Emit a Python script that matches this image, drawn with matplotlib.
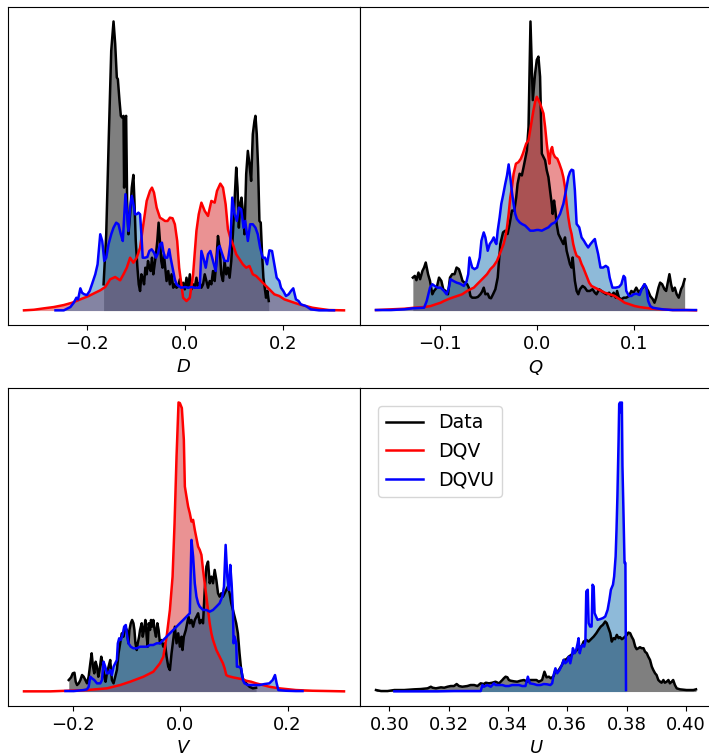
import numpy as np
import matplotlib.pyplot as plt
from matplotlib.lines import Line2D

# densities of each variable: real data vs. the two models, (x, density) pairs

# ---- D ----
d_data = [(-0.1663, 2.62), (-0.1609, 7.62), (-0.1555, 17.62), (-0.1507, 25.95), (-0.1460, 28.88),
          (-0.1426, 26.62), (-0.1393, 23.28), (-0.1372, 23.12), (-0.1338, 20.95), (-0.1311, 19.45),
          (-0.1284, 19.28), (-0.1257, 19.45), (-0.1244, 12.28), (-0.1217, 19.28), (-0.1203, 19.45),
          (-0.1183, 10.95), (-0.1156, 7.62), (-0.1122, 9.62), (-0.1088, 12.28), (-0.1055, 13.55),
          (-0.1034, 10.95), (-0.1007, 6.95), (-0.0973, 4.28), (-0.0946, 2.62), (-0.0919, 1.95),
          (-0.0892, 3.62), (-0.0865, 3.28), (-0.0838, 2.62), (-0.0811, 4.28), (-0.0784, 3.62),
          (-0.0757, 4.95), (-0.0730, 4.28), (-0.0703, 3.95), (-0.0676, 5.28), (-0.0649, 3.62),
          (-0.0622, 4.62), (-0.0595, 5.62), (-0.0568, 6.95), (-0.0541, 8.78), (-0.0514, 6.95),
          (-0.0487, 4.95), (-0.0460, 4.28), (-0.0433, 5.62), (-0.0406, 4.28), (-0.0379, 2.95),
          (-0.0345, 3.95), (-0.0311, 2.62), (-0.0277, 3.62), (-0.0243, 2.28), (-0.0210, 2.62),
          (-0.0176, 2.28), (-0.0142, 2.45), (-0.0108, 3.12), (-0.0074, 2.28), (-0.0041, 2.78),
          (-0.0007, 2.12), (0.0027, 3.28), (0.0061, 2.28), (0.0095, 3.62), (0.0128, 2.12),
          (0.0162, 2.62), (0.0196, 2.28), (0.0230, 3.28), (0.0264, 2.28), (0.0297, 2.78),
          (0.0331, 2.28), (0.0365, 2.62), (0.0399, 3.62), (0.0433, 2.95), (0.0466, 2.28),
          (0.0500, 2.95), (0.0534, 2.62), (0.0568, 3.95), (0.0602, 2.95), (0.0635, 4.95),
          (0.0669, 7.45), (0.0703, 6.28), (0.0737, 3.62), (0.0771, 2.95), (0.0804, 4.95),
          (0.0838, 3.62), (0.0872, 4.28), (0.0906, 3.28), (0.0940, 4.95), (0.0973, 7.62),
          (0.1007, 10.95), (0.1041, 14.28), (0.1068, 12.28), (0.1095, 8.28), (0.1122, 10.62),
          (0.1149, 11.28), (0.1176, 9.95), (0.1210, 7.62), (0.1244, 13.62), (0.1278, 15.95),
          (0.1311, 14.62), (0.1345, 12.95), (0.1379, 17.62), (0.1413, 18.95), (0.1433, 19.45),
          (0.1460, 17.62), (0.1487, 14.28), (0.1514, 8.95), (0.1541, 8.78), (0.1568, 5.62),
          (0.1595, 3.28), (0.1622, 2.28), (0.1649, 1.28), (0.1676, 1.95), (0.1704, 0.95)]

d_dqv = [(-0.3285, 0.02), (-0.3083, 0.08), (-0.2880, 0.22), (-0.2677, 0.35), (-0.2474, 0.55),
         (-0.2305, 0.78), (-0.2136, 1.12), (-0.1967, 1.45), (-0.1832, 1.78), (-0.1731, 2.02),
         (-0.1629, 2.35), (-0.1528, 3.12), (-0.1426, 3.35), (-0.1325, 3.02), (-0.1257, 3.62),
         (-0.1190, 4.28), (-0.1122, 5.28), (-0.1055, 4.78), (-0.0987, 5.28), (-0.0919, 6.28),
         (-0.0852, 8.62), (-0.0784, 10.95), (-0.0717, 11.95), (-0.0676, 12.28), (-0.0635, 11.78),
         (-0.0581, 10.28), (-0.0514, 9.28), (-0.0460, 9.12), (-0.0412, 8.95), (-0.0358, 8.95),
         (-0.0311, 9.28), (-0.0257, 9.22), (-0.0210, 8.62), (-0.0162, 6.95), (-0.0122, 4.28),
         (-0.0041, 1.28), (0.0027, 0.95), (0.0095, 1.28), (0.0162, 3.62), (0.0230, 7.95),
         (0.0277, 9.62), (0.0331, 10.78), (0.0399, 9.95), (0.0466, 9.45), (0.0534, 10.95),
         (0.0602, 10.78), (0.0649, 11.95), (0.0717, 12.68), (0.0771, 12.28), (0.0825, 10.62),
         (0.0872, 8.12), (0.0919, 7.28), (0.0973, 6.62), (0.1041, 5.62), (0.1109, 5.12),
         (0.1176, 4.62), (0.1244, 4.28), (0.1311, 4.45), (0.1379, 3.62), (0.1447, 3.45),
         (0.1514, 3.12), (0.1582, 2.78), (0.1649, 2.45), (0.1717, 2.12), (0.1818, 1.62),
         (0.1920, 1.45), (0.2021, 1.12), (0.2123, 0.95), (0.2224, 0.78), (0.2325, 0.62),
         (0.2461, 0.45), (0.2596, 0.28), (0.2731, 0.18), (0.2934, 0.05), (0.3238, 0.02)]

d_dqvu = [(-0.2643, 0.02), (-0.2474, 0.02), (-0.2339, 0.35), (-0.2271, 0.78), (-0.2217, 1.28),
          (-0.2183, 1.12), (-0.2136, 2.22), (-0.2102, 1.78), (-0.2055, 1.62), (-0.2001, 1.55),
          (-0.1947, 1.95), (-0.1900, 2.62), (-0.1832, 3.62), (-0.1785, 4.62), (-0.1731, 7.62),
          (-0.1690, 6.95), (-0.1649, 4.95), (-0.1609, 5.28), (-0.1562, 6.62), (-0.1507, 7.62),
          (-0.1460, 8.28), (-0.1406, 8.78), (-0.1359, 8.62), (-0.1311, 7.62), (-0.1271, 6.95),
          (-0.1244, 9.28), (-0.1217, 11.62), (-0.1183, 9.62), (-0.1156, 7.95), (-0.1122, 10.28),
          (-0.1088, 11.45), (-0.1055, 10.62), (-0.1021, 9.62), (-0.0987, 9.62), (-0.0953, 9.78),
          (-0.0919, 9.62), (-0.0892, 7.62), (-0.0865, 5.28), (-0.0818, 5.28), (-0.0771, 5.35),
          (-0.0730, 5.95), (-0.0683, 6.12), (-0.0635, 5.78), (-0.0595, 5.28), (-0.0548, 5.78),
          (-0.0514, 6.62), (-0.0473, 6.78), (-0.0446, 5.95), (-0.0412, 5.28), (-0.0365, 5.28),
          (-0.0324, 6.12), (-0.0297, 5.28), (-0.0257, 4.28), (-0.0210, 3.12), (-0.0176, 2.62),
          (-0.0135, 2.45), (-0.0074, 2.28), (-0.0007, 2.35), (0.0061, 2.28), (0.0128, 2.35),
          (0.0196, 2.28), (0.0264, 2.28), (0.0297, 2.28), (0.0331, 5.95), (0.0379, 5.12),
          (0.0419, 4.28), (0.0466, 5.62), (0.0514, 5.95), (0.0568, 4.95), (0.0622, 3.95),
          (0.0669, 6.28), (0.0703, 6.45), (0.0757, 5.62), (0.0804, 4.95), (0.0872, 4.95),
          (0.0919, 6.62), (0.0960, 11.28), (0.1007, 9.62), (0.1055, 8.95), (0.1095, 10.28),
          (0.1142, 10.12), (0.1190, 8.28), (0.1224, 8.95), (0.1278, 6.95), (0.1325, 8.62),
          (0.1379, 8.62), (0.1433, 8.28), (0.1480, 7.62), (0.1528, 6.28), (0.1582, 5.28),
          (0.1629, 5.28), (0.1670, 4.62), (0.1717, 6.02), (0.1771, 5.95), (0.1818, 4.62),
          (0.1866, 3.28), (0.1920, 2.95), (0.1954, 2.28), (0.2001, 1.95), (0.2055, 1.45),
          (0.2109, 1.62), (0.2156, 1.95), (0.2204, 2.22), (0.2258, 1.12), (0.2312, 0.95),
          (0.2359, 0.62), (0.2461, 0.45), (0.2562, 0.12), (0.2731, 0.02), (0.2866, 0.02),
          (0.3035, 0.02)]

# ---- Q ----
q_data = [(-0.1280, 3.28), (-0.1260, 3.45), (-0.1243, 3.02), (-0.1222, 3.78), (-0.1205, 3.12),
          (-0.1181, 3.95), (-0.1164, 4.28), (-0.1147, 4.78), (-0.1123, 3.62), (-0.1103, 2.95),
          (-0.1079, 1.62), (-0.1062, 1.95), (-0.1034, 2.28), (-0.1010, 3.28), (-0.0986, 2.95),
          (-0.0966, 2.12), (-0.0942, 1.95), (-0.0918, 1.62), (-0.0897, 3.28), (-0.0874, 3.62),
          (-0.0850, 3.62), (-0.0829, 4.28), (-0.0805, 4.12), (-0.0788, 3.62), (-0.0768, 2.95),
          (-0.0747, 2.78), (-0.0720, 2.62), (-0.0703, 2.28), (-0.0686, 1.45), (-0.0668, 1.28),
          (-0.0634, 1.28), (-0.0610, 1.35), (-0.0583, 1.62), (-0.0566, 1.88), (-0.0549, 2.28),
          (-0.0532, 1.62), (-0.0508, 1.68), (-0.0491, 1.28), (-0.0474, 1.22), (-0.0453, 1.62),
          (-0.0429, 2.12), (-0.0405, 3.28), (-0.0378, 6.62), (-0.0350, 7.78), (-0.0327, 7.95),
          (-0.0303, 7.62), (-0.0282, 8.62), (-0.0258, 9.95), (-0.0234, 9.95), (-0.0214, 11.28),
          (-0.0200, 12.62), (-0.0179, 13.62), (-0.0156, 13.45), (-0.0138, 14.28), (-0.0118, 15.28),
          (-0.0104, 15.95), (-0.0087, 18.28), (-0.0077, 23.28), (-0.0067, 28.78), (-0.0043, 20.95),
          (-0.0019, 23.62), (-0.0002, 24.95), (0.0015, 25.28), (0.0032, 23.28), (0.0050, 15.62),
          (0.0067, 15.28), (0.0084, 14.95), (0.0101, 13.95), (0.0118, 13.28), (0.0135, 11.95),
          (0.0152, 10.62), (0.0162, 9.62), (0.0176, 10.95), (0.0190, 9.95), (0.0203, 8.62),
          (0.0221, 7.62), (0.0238, 7.28), (0.0255, 6.95), (0.0272, 6.62), (0.0289, 7.28),
          (0.0306, 5.95), (0.0323, 5.28), (0.0340, 4.62), (0.0357, 4.28), (0.0368, 5.28),
          (0.0381, 3.95), (0.0391, 2.95), (0.0409, 1.95), (0.0426, 1.62), (0.0443, 2.12),
          (0.0470, 2.45), (0.0494, 2.28), (0.0518, 1.95), (0.0545, 1.95), (0.0573, 2.12),
          (0.0597, 1.78), (0.0614, 1.62), (0.0641, 2.12), (0.0665, 1.95), (0.0689, 1.78),
          (0.0716, 1.62), (0.0744, 1.78), (0.0768, 1.45), (0.0791, 1.78), (0.0812, 1.28),
          (0.0826, 1.95), (0.0846, 1.28), (0.0870, 1.12), (0.0894, 1.28), (0.0921, 1.28),
          (0.0949, 1.45), (0.0973, 1.95), (0.0997, 1.78), (0.1024, 2.28), (0.1051, 1.78),
          (0.1075, 2.12), (0.1092, 2.28), (0.1109, 2.62), (0.1127, 2.28), (0.1147, 1.95),
          (0.1168, 1.45), (0.1195, 1.12), (0.1212, 0.78), (0.1229, 1.28), (0.1253, 2.28),
          (0.1270, 2.78), (0.1291, 2.62), (0.1315, 2.12), (0.1332, 1.95), (0.1349, 2.78),
          (0.1366, 3.62), (0.1383, 2.62), (0.1400, 1.95), (0.1421, 2.28), (0.1441, 1.62),
          (0.1462, 1.28), (0.1486, 2.12), (0.1503, 2.45), (0.1523, 3.12)]

q_dqv = [(-0.1660, 0.05), (-0.1506, 0.12), (-0.1369, 0.18), (-0.1267, 0.28), (-0.1164, 0.35),
         (-0.1096, 0.45), (-0.1045, 0.62), (-0.0993, 0.78), (-0.0959, 0.95), (-0.0918, 1.12),
         (-0.0874, 1.28), (-0.0822, 1.45), (-0.0771, 1.62), (-0.0720, 1.95), (-0.0686, 2.12),
         (-0.0651, 2.28), (-0.0617, 2.62), (-0.0583, 2.95), (-0.0549, 3.28), (-0.0515, 3.62),
         (-0.0480, 4.12), (-0.0446, 4.45), (-0.0412, 4.95), (-0.0378, 5.78), (-0.0344, 6.62),
         (-0.0327, 7.28), (-0.0309, 8.28), (-0.0292, 9.62), (-0.0275, 11.28), (-0.0258, 12.28),
         (-0.0241, 13.62), (-0.0217, 14.62), (-0.0190, 14.78), (-0.0166, 15.12), (-0.0145, 15.62),
         (-0.0128, 16.12), (-0.0111, 16.62), (-0.0087, 16.95), (-0.0070, 17.95), (-0.0053, 18.95),
         (-0.0036, 19.95), (-0.0019, 20.78), (-0.0002, 21.28), (0.0032, 20.62), (0.0067, 19.62),
         (0.0084, 18.28), (0.0101, 16.62), (0.0118, 15.28), (0.0128, 14.62), (0.0142, 15.95),
         (0.0156, 16.28), (0.0169, 15.62), (0.0186, 15.28), (0.0210, 15.12), (0.0231, 14.62),
         (0.0255, 13.95), (0.0272, 13.28), (0.0289, 12.28), (0.0306, 10.62), (0.0323, 9.28),
         (0.0340, 8.28), (0.0357, 7.62), (0.0374, 6.62), (0.0391, 5.95), (0.0409, 5.45),
         (0.0436, 5.28), (0.0460, 4.62), (0.0477, 4.28), (0.0504, 3.62), (0.0518, 3.28),
         (0.0538, 2.78), (0.0562, 2.45), (0.0597, 2.28), (0.0631, 2.12), (0.0665, 1.95),
         (0.0699, 1.78), (0.0750, 1.62), (0.0802, 1.45), (0.0836, 1.22), (0.0870, 1.02),
         (0.0904, 0.78), (0.0956, 0.62), (0.1007, 0.45), (0.1058, 0.35), (0.1109, 0.28),
         (0.1161, 0.22), (0.1229, 0.15), (0.1298, 0.12), (0.1400, 0.05), (0.1537, 0.05),
         (0.1640, 0.02)]

q_dqvu = [(-0.1660, 0.05), (-0.1506, 0.05), (-0.1369, 0.12), (-0.1284, 0.22), (-0.1164, 0.28),
          (-0.1137, 0.95), (-0.1103, 2.28), (-0.1079, 2.62), (-0.1055, 2.45), (-0.1027, 2.28),
          (-0.0993, 2.28), (-0.0959, 1.95), (-0.0932, 1.62), (-0.0908, 2.28), (-0.0891, 3.12),
          (-0.0863, 2.95), (-0.0829, 2.78), (-0.0795, 2.68), (-0.0754, 2.45), (-0.0727, 2.88),
          (-0.0709, 3.62), (-0.0696, 5.28), (-0.0668, 4.28), (-0.0644, 4.12), (-0.0617, 4.28),
          (-0.0590, 5.28), (-0.0573, 6.95), (-0.0549, 7.78), (-0.0532, 7.28), (-0.0508, 5.95),
          (-0.0487, 6.62), (-0.0463, 6.95), (-0.0446, 7.28), (-0.0429, 6.78), (-0.0419, 6.62),
          (-0.0405, 7.95), (-0.0385, 9.28), (-0.0368, 10.62), (-0.0350, 11.45), (-0.0327, 12.62),
          (-0.0309, 13.45), (-0.0292, 14.55), (-0.0275, 13.28), (-0.0258, 11.78), (-0.0241, 10.62),
          (-0.0224, 9.62), (-0.0207, 9.12), (-0.0179, 8.78), (-0.0156, 8.62), (-0.0121, 8.45),
          (-0.0087, 8.12), (-0.0070, 7.95), (-0.0036, 7.95), (-0.0002, 8.02), (0.0015, 8.02),
          (0.0050, 7.95), (0.0084, 8.12), (0.0118, 8.28), (0.0152, 8.62), (0.0186, 8.78),
          (0.0210, 9.12), (0.0238, 9.62), (0.0272, 10.62), (0.0299, 11.95), (0.0323, 13.28),
          (0.0340, 13.78), (0.0357, 14.02), (0.0374, 13.95), (0.0391, 11.95), (0.0409, 8.62),
          (0.0436, 8.28), (0.0460, 7.28), (0.0484, 6.95), (0.0504, 6.62), (0.0528, 6.28),
          (0.0552, 6.62), (0.0580, 6.95), (0.0597, 7.12), (0.0607, 6.62), (0.0631, 5.62),
          (0.0655, 4.28), (0.0682, 4.28), (0.0709, 4.45), (0.0733, 4.28), (0.0750, 3.28),
          (0.0778, 2.28), (0.0812, 2.28), (0.0846, 2.35), (0.0870, 2.62), (0.0894, 3.45),
          (0.0908, 3.28), (0.0921, 1.95), (0.0949, 1.45), (0.0973, 1.45), (0.0997, 1.62),
          (0.1024, 1.68), (0.1058, 1.55), (0.1086, 2.28), (0.1109, 2.62), (0.1127, 2.35),
          (0.1147, 0.95), (0.1168, 0.45), (0.1195, 0.28), (0.1229, 0.22), (0.1298, 0.12),
          (0.1400, 0.05), (0.1503, 0.05), (0.1639, 0.05)]

# ---- V ----
v_data = [(-0.2077, 1.15), (-0.2033, 1.42), (-0.2002, 1.82), (-0.1971, 1.88), (-0.1947, 0.98),
          (-0.1922, 0.65), (-0.1891, 0.82), (-0.1860, 1.15), (-0.1829, 1.65), (-0.1798, 1.48),
          (-0.1767, 1.15), (-0.1737, 0.82), (-0.1706, 1.48), (-0.1675, 2.82), (-0.1650, 3.82),
          (-0.1625, 2.48), (-0.1601, 1.82), (-0.1576, 2.98), (-0.1551, 2.48), (-0.1526, 1.48),
          (-0.1502, 2.15), (-0.1471, 3.48), (-0.1446, 2.82), (-0.1415, 1.48), (-0.1391, 0.98),
          (-0.1366, 1.82), (-0.1335, 2.48), (-0.1304, 3.15), (-0.1273, 1.15), (-0.1242, 0.82),
          (-0.1211, 1.48), (-0.1180, 2.15), (-0.1149, 3.82), (-0.1119, 4.82), (-0.1088, 5.82),
          (-0.1057, 5.48), (-0.1026, 6.48), (-0.0995, 6.15), (-0.0964, 4.82), (-0.0946, 6.15),
          (-0.0921, 6.82), (-0.0896, 7.15), (-0.0871, 6.82), (-0.0853, 6.15), (-0.0834, 4.82),
          (-0.0810, 4.15), (-0.0791, 4.82), (-0.0766, 5.48), (-0.0748, 6.15), (-0.0717, 6.82),
          (-0.0698, 5.48), (-0.0674, 6.15), (-0.0649, 7.15), (-0.0624, 5.48), (-0.0606, 4.48),
          (-0.0587, 6.82), (-0.0562, 6.15), (-0.0544, 7.15), (-0.0525, 6.48), (-0.0501, 7.15),
          (-0.0476, 6.15), (-0.0451, 5.48), (-0.0426, 6.82), (-0.0402, 6.15), (-0.0377, 4.82),
          (-0.0346, 5.15), (-0.0315, 4.48), (-0.0284, 4.82), (-0.0253, 3.48), (-0.0222, 2.48),
          (-0.0192, 2.15), (-0.0161, 3.82), (-0.0130, 5.15), (-0.0099, 6.48), (-0.0068, 4.82),
          (-0.0037, 5.82), (-0.0006, 4.48), (0.0025, 5.48), (0.0043, 4.15), (0.0068, 5.48),
          (0.0105, 6.15), (0.0130, 6.82), (0.0155, 7.48), (0.0179, 6.82), (0.0210, 7.15),
          (0.0241, 6.48), (0.0272, 7.15), (0.0303, 7.48), (0.0334, 7.82), (0.0365, 6.82),
          (0.0396, 7.15), (0.0426, 6.82), (0.0457, 10.15), (0.0488, 12.48), (0.0519, 12.98),
          (0.0550, 10.82), (0.0581, 11.48), (0.0612, 10.82), (0.0643, 12.15), (0.0674, 11.15),
          (0.0705, 9.82), (0.0735, 9.48), (0.0766, 9.82), (0.0797, 9.48), (0.0828, 9.82),
          (0.0859, 10.15), (0.0890, 10.48), (0.0921, 9.82), (0.0952, 8.82), (0.0983, 8.15),
          (0.1014, 7.48), (0.1044, 6.82), (0.1075, 5.82), (0.1106, 3.82), (0.1137, 2.15),
          (0.1168, 1.32), (0.1199, 0.98), (0.1230, 0.82), (0.1292, 0.48), (0.1353, 0.32),
          (0.1415, 0.38)]

v_dqv = [(-0.2911, 0.02), (-0.2416, 0.02), (-0.2107, 0.08), (-0.1737, 0.15), (-0.1366, 0.32),
         (-0.1119, 0.65), (-0.0933, 0.98), (-0.0686, 1.48), (-0.0501, 1.98), (-0.0377, 2.82),
         (-0.0315, 3.48), (-0.0253, 5.48), (-0.0192, 8.15), (-0.0142, 11.48), (-0.0105, 16.82),
         (-0.0068, 23.48), (-0.0031, 28.88), (-0.0006, 28.82), (0.0031, 28.32), (0.0068, 25.15),
         (0.0087, 20.48), (0.0117, 19.48), (0.0148, 18.48), (0.0179, 17.82), (0.0210, 16.98),
         (0.0241, 17.15), (0.0272, 16.15), (0.0303, 15.32), (0.0334, 14.48), (0.0365, 14.15),
         (0.0396, 13.65), (0.0426, 12.15), (0.0457, 10.82), (0.0488, 9.48), (0.0519, 8.15),
         (0.0550, 6.82), (0.0581, 5.82), (0.0612, 5.15), (0.0674, 4.15), (0.0735, 3.48),
         (0.0797, 2.82), (0.0828, 2.32), (0.0859, 1.65), (0.0890, 1.55), (0.0983, 1.42),
         (0.1075, 1.32), (0.1168, 1.22), (0.1230, 1.08), (0.1323, 0.98), (0.1415, 0.82),
         (0.1539, 0.65), (0.1662, 0.48), (0.1848, 0.32), (0.2157, 0.15), (0.2466, 0.08),
         (0.2775, 0.05), (0.3053, 0.02)]

v_dqvu = [(-0.2138, 0.05), (-0.1984, 0.05), (-0.1798, 0.15), (-0.1737, 0.22), (-0.1706, 0.48),
          (-0.1675, 1.48), (-0.1644, 1.32), (-0.1601, 1.15), (-0.1551, 0.82), (-0.1489, 0.82),
          (-0.1458, 1.15), (-0.1428, 2.98), (-0.1397, 2.48), (-0.1366, 1.82), (-0.1335, 1.82),
          (-0.1304, 2.15), (-0.1273, 1.65), (-0.1242, 2.48), (-0.1211, 2.82), (-0.1180, 3.15),
          (-0.1162, 4.82), (-0.1137, 5.32), (-0.1106, 5.15), (-0.1075, 5.65), (-0.1044, 6.48),
          (-0.1014, 6.65), (-0.0995, 5.82), (-0.0964, 4.82), (-0.0921, 4.48), (-0.0871, 4.32),
          (-0.0810, 4.32), (-0.0748, 4.48), (-0.0686, 4.48), (-0.0624, 4.48), (-0.0562, 4.65),
          (-0.0501, 4.65), (-0.0439, 4.82), (-0.0377, 4.82), (-0.0315, 5.15), (-0.0253, 5.48),
          (-0.0192, 5.82), (-0.0130, 6.15), (-0.0068, 6.48), (-0.0006, 6.82), (0.0056, 7.15),
          (0.0117, 7.48), (0.0179, 7.82), (0.0210, 15.15), (0.0241, 13.48), (0.0272, 10.82),
          (0.0303, 9.48), (0.0334, 8.82), (0.0365, 8.48), (0.0426, 8.15), (0.0488, 8.15),
          (0.0550, 7.98), (0.0612, 8.15), (0.0674, 8.48), (0.0735, 8.82), (0.0785, 9.48),
          (0.0816, 10.48), (0.0847, 14.65), (0.0878, 11.48), (0.0908, 10.15), (0.0933, 12.65),
          (0.0958, 10.82), (0.0983, 8.15), (0.0995, 4.82), (0.1014, 5.48), (0.1044, 4.82),
          (0.1057, 2.48), (0.1094, 2.48), (0.1137, 2.32), (0.1168, 1.15), (0.1199, 0.82),
          (0.1261, 0.65), (0.1353, 0.65), (0.1477, 0.65), (0.1570, 0.75), (0.1662, 0.82),
          (0.1724, 1.15), (0.1767, 1.65), (0.1798, 0.82), (0.1829, 0.15), (0.1971, 0.08),
          (0.2157, 0.05), (0.2280, 0.05)]

# ---- U (DQV has no U) ----
u_data = [(0.2955, 0.15), (0.2972, 0.05), (0.2994, 0.05), (0.3017, 0.15), (0.3050, 0.15),
          (0.3084, 0.22), (0.3106, 0.25), (0.3129, 0.32), (0.3140, 0.48), (0.3146, 0.38),
          (0.3157, 0.32), (0.3174, 0.42), (0.3185, 0.38), (0.3196, 0.48), (0.3207, 0.55),
          (0.3218, 0.55), (0.3227, 0.75), (0.3235, 0.55), (0.3246, 0.48), (0.3263, 0.55),
          (0.3274, 0.65), (0.3286, 0.65), (0.3297, 0.55), (0.3308, 0.82), (0.3319, 0.75),
          (0.3325, 0.88), (0.3336, 0.82), (0.3347, 0.88), (0.3358, 0.98), (0.3370, 0.82),
          (0.3381, 1.15), (0.3386, 1.32), (0.3392, 1.48), (0.3398, 1.42), (0.3403, 1.15),
          (0.3409, 1.08), (0.3420, 1.02), (0.3431, 0.98), (0.3442, 1.08), (0.3454, 1.15),
          (0.3465, 0.98), (0.3476, 1.15), (0.3487, 1.15), (0.3496, 1.15), (0.3504, 0.98),
          (0.3515, 1.15), (0.3523, 1.98), (0.3530, 1.42), (0.3538, 1.48), (0.3545, 1.32),
          (0.3554, 1.55), (0.3560, 2.15), (0.3568, 1.98), (0.3577, 2.42), (0.3582, 2.65),
          (0.3588, 3.15), (0.3597, 3.22), (0.3605, 3.48), (0.3613, 3.65), (0.3619, 3.82),
          (0.3627, 3.98), (0.3633, 4.15), (0.3642, 4.42), (0.3649, 4.55), (0.3655, 4.98),
          (0.3664, 5.15), (0.3672, 4.98), (0.3680, 5.22), (0.3689, 5.48), (0.3698, 5.82),
          (0.3705, 6.15), (0.3713, 6.48), (0.3720, 6.65), (0.3728, 6.98), (0.3733, 6.82),
          (0.3739, 6.32), (0.3745, 5.82), (0.3750, 4.98), (0.3756, 5.32), (0.3761, 5.22),
          (0.3767, 5.65), (0.3773, 5.32), (0.3778, 5.42), (0.3784, 5.22), (0.3789, 5.32),
          (0.3795, 5.48), (0.3801, 5.65), (0.3806, 5.88), (0.3812, 5.82), (0.3817, 5.48),
          (0.3823, 5.15), (0.3829, 4.48), (0.3834, 4.22), (0.3840, 4.32), (0.3845, 4.42),
          (0.3851, 4.32), (0.3857, 4.32), (0.3862, 3.98), (0.3868, 3.82), (0.3873, 3.48),
          (0.3879, 3.15), (0.3885, 2.48), (0.3890, 2.15), (0.3896, 1.82), (0.3901, 1.65),
          (0.3907, 1.15), (0.3913, 0.98), (0.3918, 0.88), (0.3924, 1.15), (0.3929, 0.88),
          (0.3935, 0.98), (0.3941, 1.15), (0.3946, 0.82), (0.3952, 0.98), (0.3957, 1.15),
          (0.3963, 0.65), (0.3969, 0.32), (0.3980, 0.22), (0.4002, 0.15), (0.4025, 0.15),
          (0.4034, 0.22)]

u_dqvu = [(0.3017, 0.02), (0.3106, 0.02), (0.3162, 0.02), (0.3218, 0.05), (0.3274, 0.05),
          (0.3308, 0.05), (0.3314, 0.65), (0.3319, 0.48), (0.3330, 0.65), (0.3342, 0.48),
          (0.3353, 0.82), (0.3358, 0.65), (0.3370, 0.65), (0.3381, 0.65), (0.3392, 0.55),
          (0.3403, 0.55), (0.3414, 0.65), (0.3426, 0.65), (0.3437, 0.65), (0.3448, 0.55),
          (0.3459, 0.55), (0.3467, 1.48), (0.3474, 0.82), (0.3487, 0.75), (0.3498, 0.65),
          (0.3510, 0.65), (0.3521, 0.75), (0.3532, 0.72), (0.3543, 0.65), (0.3549, 0.82),
          (0.3554, 1.65), (0.3560, 2.32), (0.3566, 1.82), (0.3574, 2.15), (0.3582, 2.65),
          (0.3588, 3.15), (0.3593, 2.82), (0.3599, 2.98), (0.3605, 3.48), (0.3610, 2.82),
          (0.3616, 3.65), (0.3619, 4.32), (0.3625, 3.82), (0.3630, 4.15), (0.3635, 4.82),
          (0.3638, 5.32), (0.3642, 3.82), (0.3646, 4.32), (0.3652, 4.65), (0.3657, 4.48),
          (0.3661, 4.98), (0.3664, 9.98), (0.3669, 10.15), (0.3672, 6.82), (0.3677, 6.48),
          (0.3682, 6.48), (0.3685, 10.65), (0.3689, 10.48), (0.3692, 7.82), (0.3697, 7.48),
          (0.3702, 7.15), (0.3711, 7.22), (0.3720, 7.32), (0.3728, 7.48), (0.3736, 8.15),
          (0.3742, 9.15), (0.3747, 10.15), (0.3754, 10.65), (0.3758, 11.48), (0.3763, 13.48),
          (0.3766, 16.15), (0.3769, 19.48), (0.3773, 25.15), (0.3775, 28.65), (0.3778, 28.82),
          (0.3782, 27.82), (0.3784, 28.82), (0.3786, 22.48), (0.3789, 18.48), (0.3793, 12.82),
          (0.3796, 12.82), (0.3798, 0.15)]

series_names = ['Data', 'DQV', 'DQVU']
line_colors = ['k', 'r', 'b']
fill_colors = ['k', 'tab:red', 'tab:blue']

plt.rcParams['font.size'] = 13

fig = plt.figure(figsize=(7.09, 7.56), dpi=100)
w, h = 352 / 709, 318 / 756
ax_d = fig.add_axes([8 / 709, 431 / 756, w, h])
ax_q = fig.add_axes([360 / 709, 431 / 756, w, h])
ax_v = fig.add_axes([8 / 709, 50 / 756, w, h])
ax_u = fig.add_axes([360 / 709, 50 / 756, w, h])

panels = [
    (ax_d, '$D$', [d_data, d_dqv, d_dqvu], [-0.2, 0.0, 0.2], '{:.1f}'),
    (ax_q, '$Q$', [q_data, q_dqv, q_dqvu], [-0.1, 0.0, 0.1], '{:.1f}'),
    (ax_v, '$V$', [v_data, v_dqv, v_dqvu], [-0.2, 0.0, 0.2], '{:.1f}'),
    (ax_u, '$U$', [u_data, None, u_dqvu], [0.30, 0.32, 0.34, 0.36, 0.38, 0.40], '{:.2f}'),
]

for ax, label, curves, ticks, fmt in panels:
    for pts, lc, fc in zip(curves, line_colors, fill_colors):
        if pts is None:
            continue
        x, y = np.array(pts).T
        ax.plot(x, y, color=lc, lw=1.8)
        ax.fill_between(x, y, color=fc, alpha=0.5, lw=0)
    ax.set_yticks([])
    ax.set_xticks(ticks)
    ax.set_xticklabels([fmt.format(t).replace('-', '\u2212') for t in ticks])
    ax.set_xlabel(label)

handles = [Line2D([], [], color=c, lw=1.8) for c in line_colors]
ax_u.legend(handles, series_names, loc='upper left', borderaxespad=0.95, fontsize=13.6)

fig.savefig('out.png', dpi=100)
